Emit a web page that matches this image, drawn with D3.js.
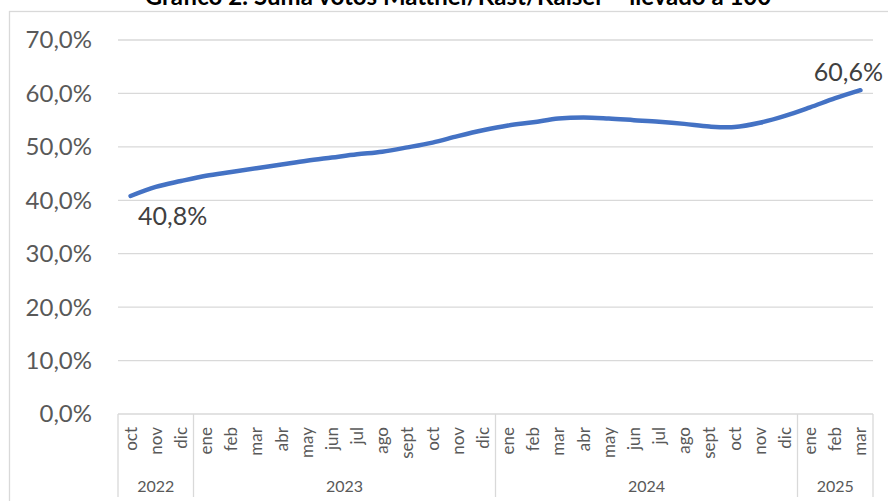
<!DOCTYPE html>
<html>
<head>
<meta charset="utf-8">
<script src="https://cdn.jsdelivr.net/npm/d3@7"></script>
<style>
  body { margin: 0; background: #fff; }
  svg { display: block; font-family: Lato, "Open Sans", sans-serif; }
</style>
</head>
<body>
<div id="chart"></div>
<script>
"use strict";

// months, oct 2022 .. mar 2025
var months = ["oct","nov","dic",
  "ene","feb","mar","abr","may","jun","jul","ago","sept","oct","nov","dic",
  "ene","feb","mar","abr","may","jun","jul","ago","sept","oct","nov","dic",
  "ene","feb","mar"];
var years = [
  {label: "2022", n: 3},
  {label: "2023", n: 12},
  {label: "2024", n: 12},
  {label: "2025", n: 3}
];
// sum of votes, %
var values = [40.8, 42.5, 43.6,
  44.6, 45.3, 46.0, 46.7, 47.4, 48.0, 48.6, 49.1, 49.9, 50.8, 52.0, 53.1,
  54.0, 54.6, 55.3, 55.5, 55.3, 55.0, 54.7, 54.3, 53.8, 53.7, 54.5, 55.8,
  57.4, 59.1, 60.6];
var yTicks = [0, 10, 20, 30, 40, 50, 60, 70];
var title = "Gráfico 2: Suma votos Matthei/Kast/Kaiser – llevado a 100";

var W = 888, H = 501;
var margin = {left: 118, right: 15, top: 40, bottom: 87};

var svg = d3.select("#chart").append("svg")
  .attr("width", W)
  .attr("height", H);

// chart frame
svg.append("rect")
  .attr("x", 9.5).attr("y", 11.5)
  .attr("width", W + 20).attr("height", H + 20)
  .attr("fill", "none")
  .attr("stroke", "#d9d9d9")
  .attr("stroke-width", 1.3);

// title (cut at the top as in the source)
svg.append("text")
  .attr("x", 458).attr("y", 5)
  .attr("text-anchor", "middle")
  .attr("font-weight", "bold")
  .attr("font-size", 24)
  .attr("fill", "#000")
  .text(title);

var idx = d3.range(values.length);
var x = d3.scaleBand()
  .domain(idx)
  .range([margin.left, W - margin.right]);
var y = d3.scaleLinear()
  .domain([0, 70])
  .range([H - margin.bottom, margin.top]);

// gridlines
svg.append("g").selectAll("line")
  .data(yTicks)
  .enter().append("line")
  .attr("x1", margin.left).attr("x2", W - margin.right)
  .attr("y1", function(d) { return y(d); })
  .attr("y2", function(d) { return y(d); })
  .attr("stroke", "#d9d9d9")
  .attr("stroke-width", 1.3);

// y labels
svg.append("g").selectAll("text")
  .data(yTicks)
  .enter().append("text")
  .attr("x", 92)
  .attr("y", function(d) { return y(d); })
  .attr("dy", "0.35em")
  .attr("text-anchor", "end")
  .attr("font-size", 24)
  .attr("fill", "#595959")
  .text(function(d) { return d.toFixed(1).replace(".", ",") + "%"; });

// category box: dividers between years
var bottomY = H - 4;
var bounds = [0];
years.forEach(function(yr) { bounds.push(bounds[bounds.length - 1] + yr.n); });
function edge(i) {
  return i < values.length ? x(i) : x(values.length - 1) + x.bandwidth();
}
svg.append("g").selectAll("line")
  .data(bounds)
  .enter().append("line")
  .attr("x1", function(d) { return edge(d); })
  .attr("x2", function(d) { return edge(d); })
  .attr("y1", y(0)).attr("y2", bottomY)
  .attr("stroke", "#d9d9d9")
  .attr("stroke-width", 1.3);

// month labels
svg.append("g").selectAll("text")
  .data(months)
  .enter().append("text")
  .attr("transform", function(d, i) {
    return "translate(" + (x(i) + x.bandwidth() / 2) + "," + (y(0) + 13) + ") rotate(-90)";
  })
  .attr("dy", "0.35em")
  .attr("text-anchor", "end")
  .attr("font-size", 17)
  .attr("fill", "#595959")
  .text(function(d) { return d; });

// year labels
svg.append("g").selectAll("text")
  .data(years)
  .enter().append("text")
  .attr("x", function(d, i) { return (edge(bounds[i]) + edge(bounds[i + 1])) / 2; })
  .attr("y", 486)
  .attr("dy", "0.35em")
  .attr("text-anchor", "middle")
  .attr("font-size", 16)
  .attr("fill", "#595959")
  .text(function(d) { return d.label; });

// line
var line = d3.line()
  .x(function(d, i) { return x(i) + x.bandwidth() / 2; })
  .y(function(d) { return y(d); })
  .curve(d3.curveCardinal.tension(0));

svg.append("path")
  .datum(values)
  .attr("d", line)
  .attr("fill", "none")
  .attr("stroke", "#4472c4")
  .attr("stroke-width", 4.5)
  .attr("stroke-linecap", "round");

// data labels, first and last
var last = values.length - 1;
var labels = [
  {i: 0, dx: 42, dy: 20},
  {i: last, dx: -12, dy: -18}
];
svg.append("g").selectAll("text")
  .data(labels)
  .enter().append("text")
  .attr("x", function(d) { return x(d.i) + x.bandwidth() / 2 + d.dx; })
  .attr("y", function(d) { return y(values[d.i]) + d.dy; })
  .attr("dy", "0.35em")
  .attr("text-anchor", "middle")
  .attr("font-size", 25)
  .attr("fill", "#404040")
  .text(function(d) { return values[d.i].toFixed(1).replace(".", ",") + "%"; });
</script>
</body>
</html>
